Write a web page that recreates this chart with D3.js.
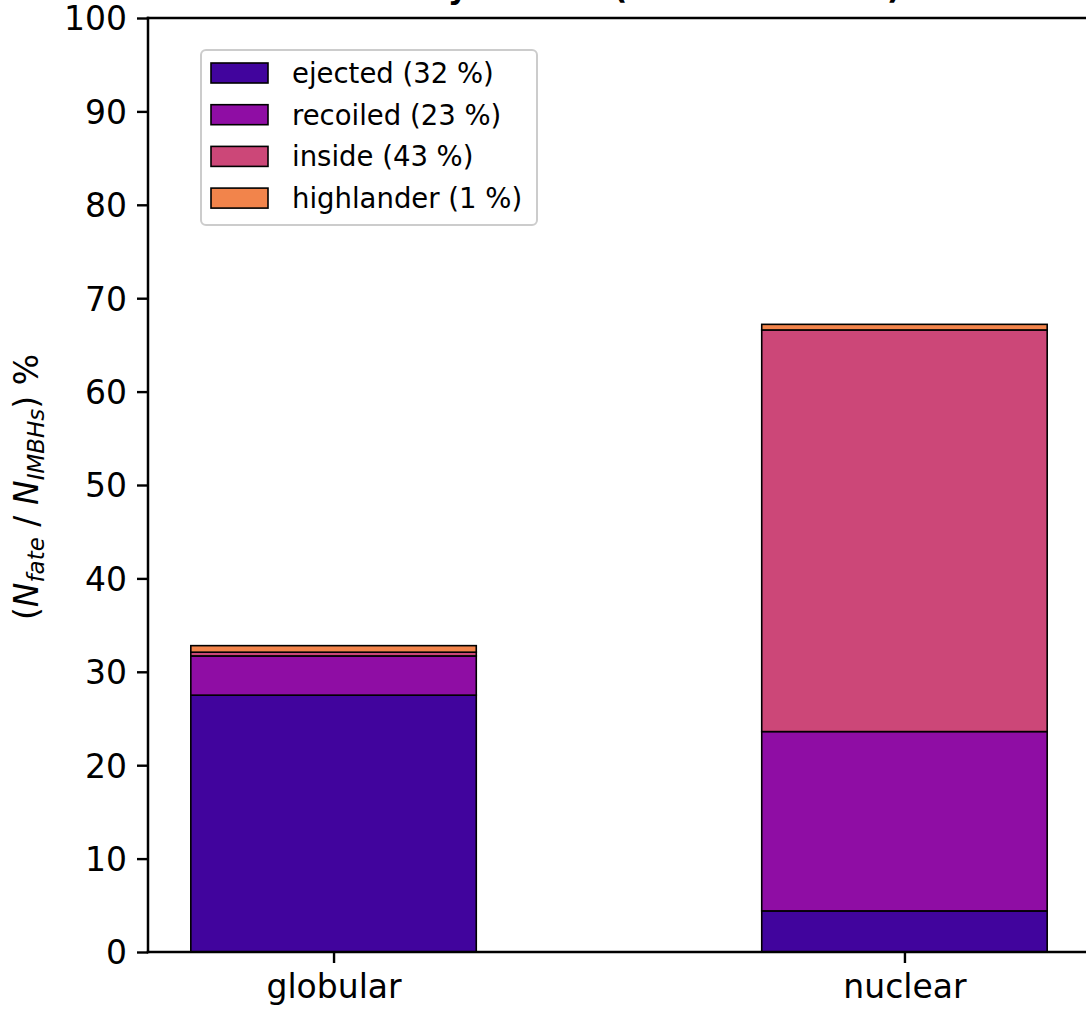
<!DOCTYPE html>
<html>
<head>
<meta charset="utf-8">
<script src="https://cdn.jsdelivr.net/npm/d3@7"></script>
<style>
  html, body { margin: 0; padding: 0; background: #fff; }
  svg { display: block; }
  text { font-family: "DejaVu Sans", sans-serif; }
</style>
</head>
<body>
<script>
// Cluster types on the x axis
const categories = ["globular", "nuclear"];
// Fate classes, stacked bottom to top
const fates = ["ejected", "recoiled", "inside", "highlander"];
// Percent of all IMBHs for each fate, per cluster type
const ejected    = [27.5, 4.4];
const recoiled   = [4.2, 19.2];
const inside     = [0.4, 43.0];
const highlander = [0.7, 0.6];
// Overall share of each fate shown in the legend
const totals = [32, 23, 43, 1];
const yTicks = [0, 10, 20, 30, 40, 50, 60, 70, 80, 90, 100];
const colors = ["#41049d", "#8f0da4", "#cc4778", "#f2844b"];

const W = 1086, H = 1013;
const mLeft = 148, mRight = 1090, mTop = 18, mBottom = 952;

const rows = categories.map((c, i) => ({
  cat: c, idx: i,
  ejected: ejected[i], recoiled: recoiled[i], inside: inside[i], highlander: highlander[i]
}));

const svg = d3.select("body").append("svg").attr("width", W).attr("height", H);

const x = d3.scaleLinear().domain([-0.325, 1.325]).range([mLeft, mRight]);
const y = d3.scaleLinear().domain([0, 100]).range([mBottom, mTop]);
const barW = 0.5;

const stack = d3.stack().keys(fates)(rows);

const g = svg.append("g");
stack.forEach((layer, k) => {
  g.selectAll(null).data(layer).enter().append("rect")
    .attr("x", d => x(d.data.idx - barW / 2))
    .attr("width", d => x(barW) - x(0))
    .attr("y", d => y(d[1]))
    .attr("height", d => y(d[0]) - y(d[1]))
    .attr("fill", colors[k])
    .attr("stroke", "#000")
    .attr("stroke-width", 1.6);
});

// Axes
const yAxis = svg.append("g").attr("transform", `translate(${mLeft},0)`)
  .call(d3.axisLeft(y).tickValues(yTicks).tickSize(11).tickPadding(10).tickFormat(d3.format("d")));
const xAxis = svg.append("g").attr("transform", `translate(0,${mBottom})`)
  .call(d3.axisBottom(x).tickValues(categories.map((c, i) => i)).tickSize(11).tickPadding(12)
    .tickFormat(i => categories[i]));
[yAxis, xAxis].forEach(a => {
  a.select(".domain").remove();
  a.selectAll(".tick line").attr("stroke", "#000").attr("stroke-width", 2.4);
  a.selectAll(".tick text").attr("fill", "#000").style("font-size", "33px")
    .style("font-family", "'DejaVu Sans', sans-serif");
});
yAxis.selectAll(".tick text").attr("dy", "0.36em");

// Spines
const sp = svg.append("g").attr("stroke", "#000").attr("stroke-width", 2.5).attr("stroke-linecap", "square");
sp.append("line").attr("x1", mLeft).attr("x2", mLeft).attr("y1", mTop).attr("y2", mBottom);
sp.append("line").attr("x1", mLeft).attr("x2", mRight).attr("y1", mBottom).attr("y2", mBottom);
sp.append("line").attr("x1", mLeft).attr("x2", mRight).attr("y1", mTop).attr("y2", mTop);
sp.append("line").attr("x1", mRight).attr("x2", mRight).attr("y1", mTop).attr("y2", mBottom);

// Title (sits above the frame, mostly beyond the top edge)
svg.append("text")
  .attr("x", (mLeft + mRight) / 2).attr("y", -2)
  .attr("text-anchor", "middle")
  .style("font-size", "31.5px").style("font-weight", "bold")
  .text("Fate by cluster (all simulations)");

// Y label with mathtext-like subscripts
const yl = svg.append("text")
  .attr("transform", `translate(38,${(mTop + mBottom) / 2 + 2}) rotate(-90)`)
  .attr("text-anchor", "middle")
  .style("font-size", "33px");
yl.append("tspan").text("(");
yl.append("tspan").style("font-style", "italic").text("N");
yl.append("tspan").style("font-style", "italic").style("font-size", "23px").attr("dy", 6).text("fate");
yl.append("tspan").attr("dy", -6).text(" / ");
yl.append("tspan").style("font-style", "italic").text("N");
yl.append("tspan").style("font-style", "italic").style("font-size", "23px").attr("dy", 6).text("IMBHs");
yl.append("tspan").attr("dy", -6).text(") %");

// Legend
const lg = svg.append("g");
lg.append("rect")
  .attr("x", 201).attr("y", 50).attr("width", 336).attr("height", 175)
  .attr("rx", 5).attr("fill", "#fff").attr("fill-opacity", 0.8)
  .attr("stroke", "#cccccc").attr("stroke-width", 2);
fates.forEach((f, k) => {
  const cy = 73 + k * 41.7;
  lg.append("rect").attr("x", 211).attr("y", cy - 10).attr("width", 57).attr("height", 20)
    .attr("fill", colors[k]).attr("stroke", "#000").attr("stroke-width", 1.6);
  lg.append("text").attr("x", 292).attr("y", cy).attr("dy", "0.36em")
    .style("font-size", "27.5px").attr("fill", "#000")
    .text(`${f} (${totals[k]} %)`);
});
</script>
</body>
</html>
